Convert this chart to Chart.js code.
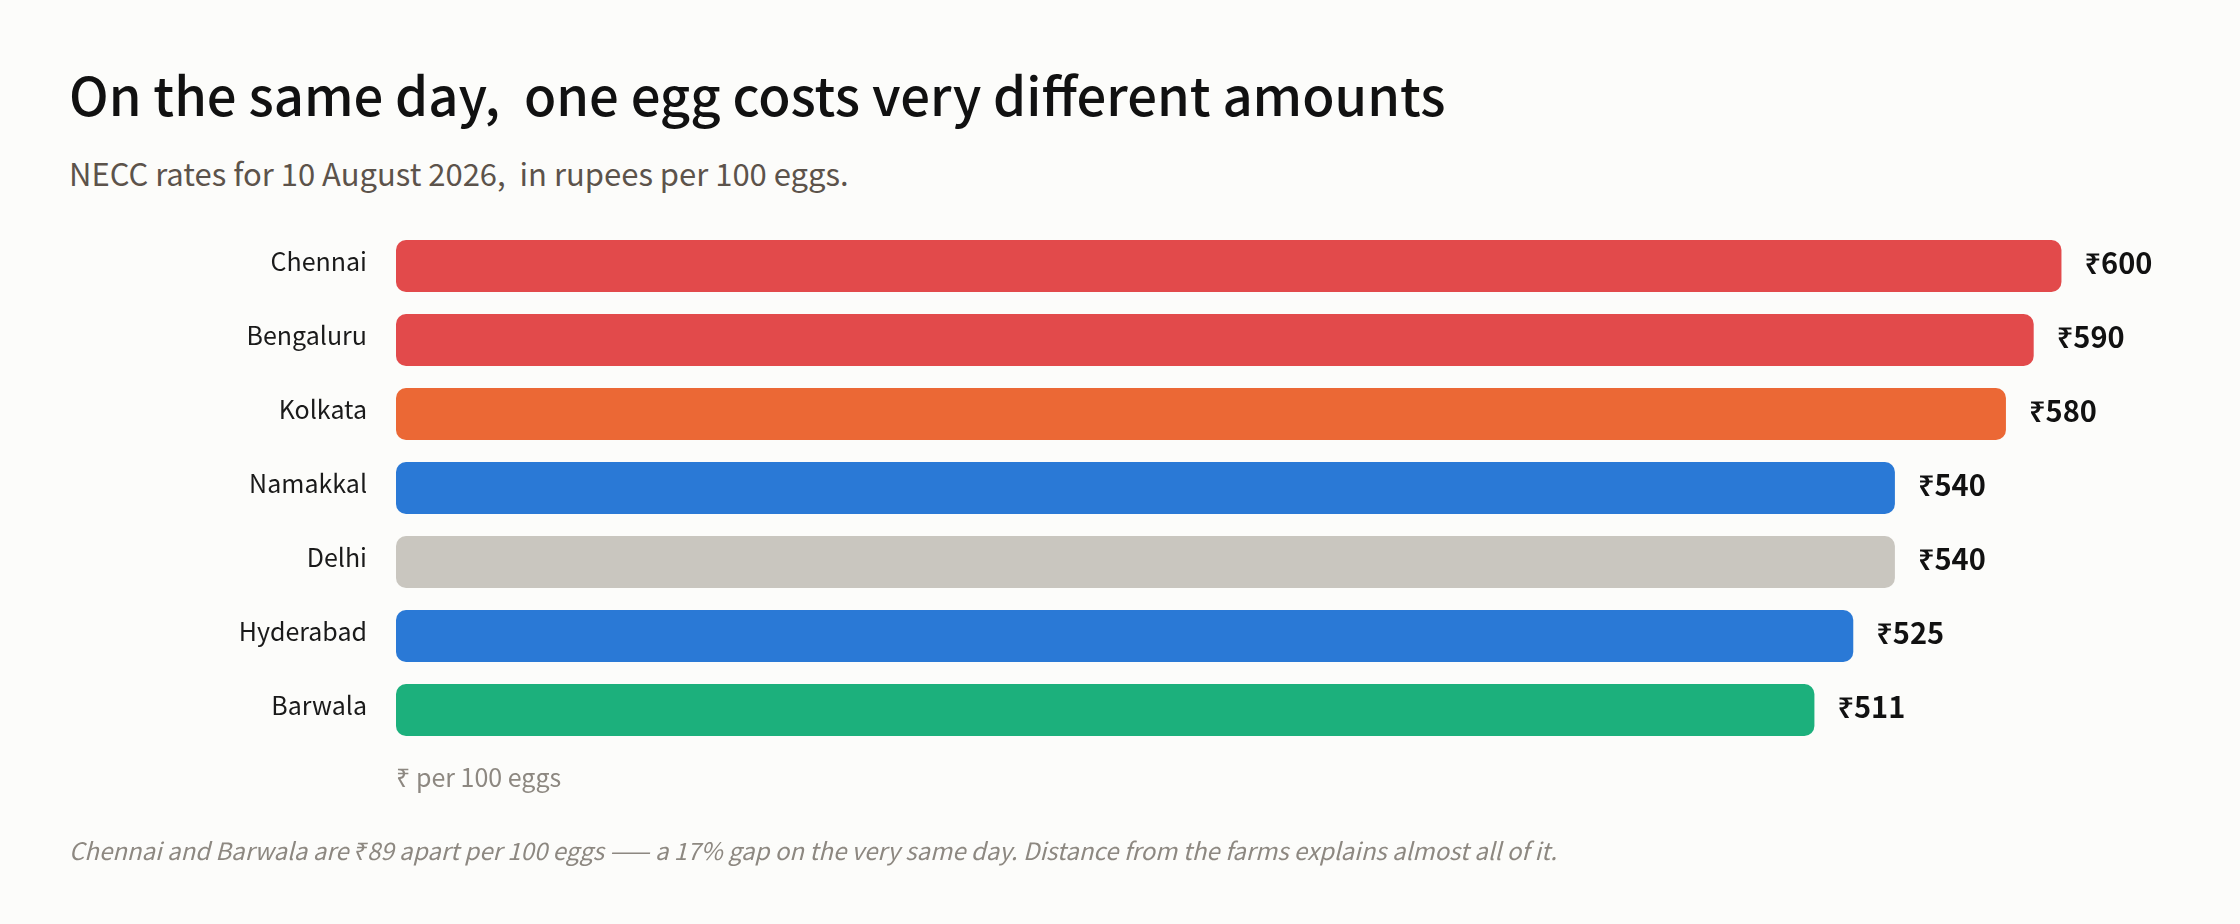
<!DOCTYPE html>
<html><head><meta charset="utf-8">
<script src="https://cdn.jsdelivr.net/npm/chart.js@4.4.1/dist/chart.umd.min.js"></script>
<style>
html,body{margin:0;padding:0;background:#fcfcfa;width:2240px;height:924px;overflow:hidden;}
body{font-family:"Noto Sans CJK JP","Noto Sans",sans-serif;position:relative;}
#title{position:absolute;left:69px;top:67px;font-size:52.6px;line-height:1;font-weight:500;color:#111;white-space:pre;margin:0}
#sub{position:absolute;left:69px;top:157px;font-size:31px;line-height:1;font-weight:400;color:#5c534b;white-space:pre;margin:0}
#foot{position:absolute;left:69px;top:838px;font-size:24px;line-height:1;font-style:italic;color:#8d8881;white-space:pre;margin:0}
#wrap{position:absolute;left:0;top:0;width:2240px;height:924px;}
</style></head><body>
<h1 id="title">On the same day,  one egg costs very different amounts</h1>
<p id="sub">NECC rates for 10 August 2026,  in rupees per 100 eggs.</p>
<div id="wrap"><canvas id="c"></canvas></div>
<p id="foot">Chennai and Barwala are ₹89 apart per 100 eggs —— a 17% gap on the very same day. Distance from the farms explains almost all of it.</p>
<script>
const cities = ["Chennai","Bengaluru","Kolkata","Namakkal","Delhi","Hyderabad","Barwala"];
const rates = [600, 590, 580, 540, 540, 525, 511];
const barColors = ["#e24a4b","#e24a4b","#eb6835","#2a79d6","#c9c6bf","#2a79d6","#1cb07c"];
const axisTitle = "₹ per 100 eggs";
const FONT = '"Noto Sans CJK JP","Noto Sans",sans-serif';

const valueLabels = {
  id: 'valueLabels',
  afterDatasetsDraw(chart) {
    const {ctx} = chart;
    const meta = chart.getDatasetMeta(0);
    ctx.save();
    ctx.font = '600 29px ' + FONT;
    ctx.fillStyle = '#111';
    ctx.textAlign = 'left';
    ctx.textBaseline = 'alphabetic';
    meta.data.forEach((bar, i) => {
      ctx.fillText('₹' + rates[i], bar.x + 23, bar.y + 8);
    });
    ctx.restore();
  }
};

new Chart(document.getElementById('c'), {
  type: 'bar',
  data: {
    labels: cities,
    datasets: [{
      data: rates,
      backgroundColor: barColors,
      borderRadius: 10,
      borderSkipped: false,
      categoryPercentage: 1,
      barPercentage: 0.7
    }]
  },
  options: {
    indexAxis: 'y',
    responsive: true,
    maintainAspectRatio: false,
    animation: false,
    devicePixelRatio: 1,
    layout: {padding: {top: 229, right: 12, bottom: 0, left: 0}},
    plugins: {legend: {display: false}, tooltip: {enabled: false}, title: {display: false}},
    scales: {
      x: {
        min: 0, max: 660,
        grid: {display: false, drawTicks: false},
        border: {display: false},
        ticks: {display: false},
        title: {display: true, text: axisTitle, align: 'start', color: '#8d8881',
                font: {family: FONT, size: 25, lineHeight: 1.2}, padding: {top: 0, bottom: 132}},
        afterFit(s) { s.height = 177; }
      },
      y: {
        grid: {display: false, drawTicks: false},
        border: {display: false},
        ticks: {color: '#1a1a1a', padding: 29, labelOffset: -5,
                font: {family: FONT, size: 25, weight: 400}},
        afterFit(s) { s.width = 396; }
      }
    }
  },
  plugins: [valueLabels]
});
</script>
</body></html>
